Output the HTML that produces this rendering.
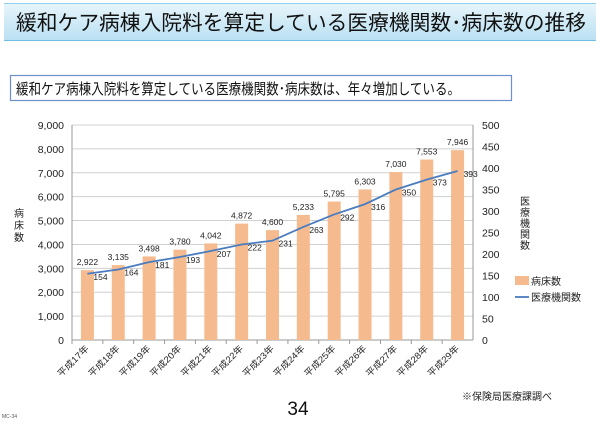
<!DOCTYPE html>
<html><head><meta charset="utf-8"><style>
body{margin:0;width:600px;height:420px;background:#fff;overflow:hidden;font-family:"Liberation Sans","Noto Sans CJK JP",sans-serif}
</style></head><body>
<svg width="600" height="420" xmlns="http://www.w3.org/2000/svg" font-family="Liberation Sans, Noto Sans CJK JP, sans-serif">
<defs><linearGradient id="g" x1="0" y1="0" x2="0" y2="1"><stop offset="0" stop-color="#e8f5fb"/><stop offset="1" stop-color="#b9e0f2"/></linearGradient></defs>
<rect x="4" y="3" width="592" height="38" fill="url(#g)"/>
<line x1="4" y1="3.5" x2="596" y2="3.5" stroke="#8fd0ea"/>
<line x1="4" y1="40.5" x2="596" y2="40.5" stroke="#6fbfe0"/>
<text x="16" y="30" font-size="21" fill="#111" textLength="570" lengthAdjust="spacingAndGlyphs">緩和ケア病棟入院料を算定している医療機関数･病床数の推移</text>
<rect x="10.5" y="75.5" width="501" height="25" fill="#fff" stroke="#6f8fc8" stroke-width="1.2"/>
<text x="16" y="94" font-size="15" fill="#111" textLength="444" lengthAdjust="spacingAndGlyphs">緩和ケア病棟入院料を算定している医療機関数･病床数は、年々増加している。</text>
<g id="chart"></g>
<text x="298" y="415" font-size="19" fill="#111" text-anchor="middle">34</text>
<text x="462" y="400" font-size="10" fill="#222">※保険局医療課調べ</text>
<text x="2" y="418" font-size="5" fill="#555">MC-34</text>
</svg>
<script>
var s='',L=72,R=473,T=125,B=340;
var names=['17','18','19','20','21','22','23','24','25','26','27','28','29'];
var beds=[2922,3135,3498,3780,4042,4872,4600,5233,5795,6303,7030,7553,7946];
var hosp=[154,164,181,193,207,222,231,263,292,316,350,373,393];
var n=13,w=(R-L)/n;
function yb(v){return B-(B-T)*v/9000}function yh(v){return B-(B-T)*v/500}
for(var i=0;i<=9;i++){var y=yb(i*1000);s+='<line x1="'+L+'" y1="'+y+'" x2="'+R+'" y2="'+y+'" stroke="#d0d0d0" stroke-width="1"/>';
s+='<text x="'+(L-8)+'" y="'+(y+4)+'" font-size="10.5" text-anchor="end" fill="#222">'+(i*1000).toLocaleString('en-US')+'</text>';}
for(var i=0;i<=10;i++){var y=yh(i*50);s+='<text x="'+(R+9)+'" y="'+(y+4)+'" font-size="10.5" fill="#222">'+(i*50)+'</text>';}
s+='<line x1="'+L+'" y1="'+T+'" x2="'+L+'" y2="'+B+'" stroke="#999"/><line x1="'+R+'" y1="'+T+'" x2="'+R+'" y2="'+B+'" stroke="#999"/><line x1="'+L+'" y1="'+B+'" x2="'+R+'" y2="'+B+'" stroke="#999"/>';
var pts=[];
for(var i=0;i<n;i++){var cx=L+w*(i+.5);var y=yb(beds[i]);
s+='<line x1="'+(L+w*i)+'" y1="'+B+'" x2="'+(L+w*i)+'" y2="'+(B+4)+'" stroke="#999"/>';
s+='<rect x="'+(cx-6.5)+'" y="'+y+'" width="13" height="'+(B-y)+'" fill="#f5bb8f"/>';
s+='<text x="'+cx+'" y="'+(y-5)+'" font-size="8.5" text-anchor="middle" fill="#222">'+beds[i].toLocaleString('en-US')+'</text>';
pts.push(cx+','+yh(hosp[i]));
s+='<text x="'+(cx+6)+'" y="'+(yh(hosp[i])+6)+'" font-size="8.5" fill="#222">'+hosp[i]+'</text>';
s+='<text transform="translate('+(cx+2)+','+(B+9)+') rotate(-45)" font-size="9" text-anchor="end" fill="#222" textLength="40" lengthAdjust="spacingAndGlyphs">平成'+names[i]+'年</text>';}
s+='<polyline points="'+pts.join(' ')+'" fill="none" stroke="#4a7cc0" stroke-width="1.8"/>';
s+='<text font-size="10" fill="#222"><tspan x="14" y="217">病</tspan><tspan x="14" y="229">床</tspan><tspan x="14" y="241">数</tspan></text>';
s+='<text font-size="10" fill="#222"><tspan x="520" y="205">医</tspan><tspan x="520" y="216">療</tspan><tspan x="520" y="227">機</tspan><tspan x="520" y="238">関</tspan><tspan x="520" y="249">数</tspan></text>';
s+='<rect x="515" y="276" width="14" height="9" fill="#f5bb8f"/><text x="531" y="285" font-size="10" fill="#222">病床数</text>';
s+='<line x1="515" y1="297" x2="529" y2="297" stroke="#4a7cc0" stroke-width="1.8"/><text x="531" y="301" font-size="10" fill="#222">医療機関数</text>';
document.getElementById('chart').innerHTML=s;
</script>
</body></html>
